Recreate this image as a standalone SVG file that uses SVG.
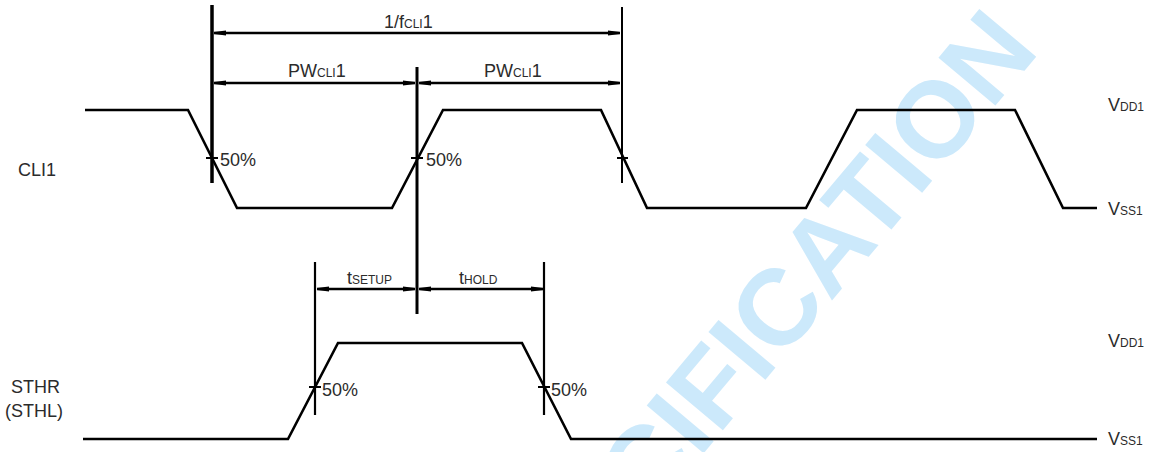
<svg xmlns="http://www.w3.org/2000/svg" width="1157" height="452" viewBox="0 0 1157 452">
<style>
.wave{fill:none;stroke:#000;stroke-width:2.6;stroke-linejoin:miter}
.ref{stroke:#000;fill:none}
.dim{stroke:#000;stroke-width:2.5;fill:none;marker-start:url(#arr);marker-end:url(#arr)}
.tick{stroke:#000;stroke-width:2}
text{font-family:"Liberation Sans",Arial,sans-serif;fill:#2b2b2b}
.lbl{font-size:18px}
.sub{font-size:12px}
.wm{font-family:"Liberation Sans",Arial,sans-serif;font-weight:bold;font-size:108px;fill:#cce9fb}
</style>
<defs>
<marker id="arr" viewBox="0 0 12 6" refX="12" refY="3" markerWidth="12" markerHeight="6" markerUnits="userSpaceOnUse" orient="auto-start-reverse">
<path d="M0,0.5 L12,2 L12,4 L0,5.5 z" fill="#000"/>
</marker>
</defs>
<rect width="1157" height="452" fill="#fff"/>
<text class="wm" transform="translate(510,684) rotate(-50)">SPECIFICATION</text>

<g id="cli1-signal">
<polyline class="wave" points="85,110 188,110 237,208 392,208 443,110 601,110 647,208 806,208 857,110 1015,110 1063,208 1097,208"/>
<line class="tick" x1="206" y1="158" x2="218" y2="158"/>
<line class="tick" x1="411" y1="158" x2="423" y2="158"/>
<line class="tick" x1="617" y1="158" x2="628" y2="158"/>
<text class="lbl" x="18" y="176">CLI1</text>
<text class="lbl" x="220" y="166">50%</text>
<text class="lbl" x="426" y="166">50%</text>
</g>

<g id="sthr-signal">
<polyline class="wave" points="83,439 288,439 338,343 522,343 571,439 1097,439"/>
<line class="tick" x1="309" y1="387" x2="321" y2="387"/>
<line class="tick" x1="538" y1="387" x2="550" y2="387"/>
<text class="lbl" x="11" y="393">STHR</text>
<text class="lbl" x="5" y="417">(STHL)</text>
<text class="lbl" x="322" y="396">50%</text>
<text class="lbl" x="551" y="396">50%</text>
</g>

<g id="levels">
<text class="lbl" x="1108" y="111">V<tspan class="sub">DD1</tspan></text>
<text class="lbl" x="1108" y="215">V<tspan class="sub">SS1</tspan></text>
<text class="lbl" x="1108" y="347">V<tspan class="sub">DD1</tspan></text>
<text class="lbl" x="1108" y="445">V<tspan class="sub">SS1</tspan></text>
</g>

<g id="references">
<line class="ref" stroke-width="3.5" x1="212" y1="5" x2="212" y2="183"/>
<line class="ref" stroke-width="3" x1="417" y1="67" x2="417" y2="314"/>
<line class="ref" stroke-width="2" x1="622" y1="7" x2="622" y2="183"/>
<line class="ref" stroke-width="2.2" x1="315" y1="262" x2="315" y2="415"/>
<line class="ref" stroke-width="2.2" x1="544" y1="262" x2="544" y2="415"/>
</g>

<g id="connectors">
<line class="dim" x1="214" y1="33" x2="620" y2="33"/>
<line class="dim" x1="214" y1="83" x2="415" y2="83"/>
<line class="dim" x1="419" y1="83" x2="620" y2="83"/>
<line class="dim" x1="317" y1="289" x2="415" y2="289"/>
<line class="dim" x1="419" y1="289" x2="543" y2="289"/>
</g>

<g id="dim-labels">
<text class="lbl" x="384" y="28">1/f<tspan class="sub">CLI</tspan>1</text>
<text class="lbl" x="288" y="77">PW<tspan class="sub">CLI</tspan>1</text>
<text class="lbl" x="484" y="77">PW<tspan class="sub">CLI</tspan>1</text>
<text class="lbl" x="347" y="284">t<tspan class="sub">SETUP</tspan></text>
<text class="lbl" x="459" y="284">t<tspan class="sub">HOLD</tspan></text>
</g>
</svg>
